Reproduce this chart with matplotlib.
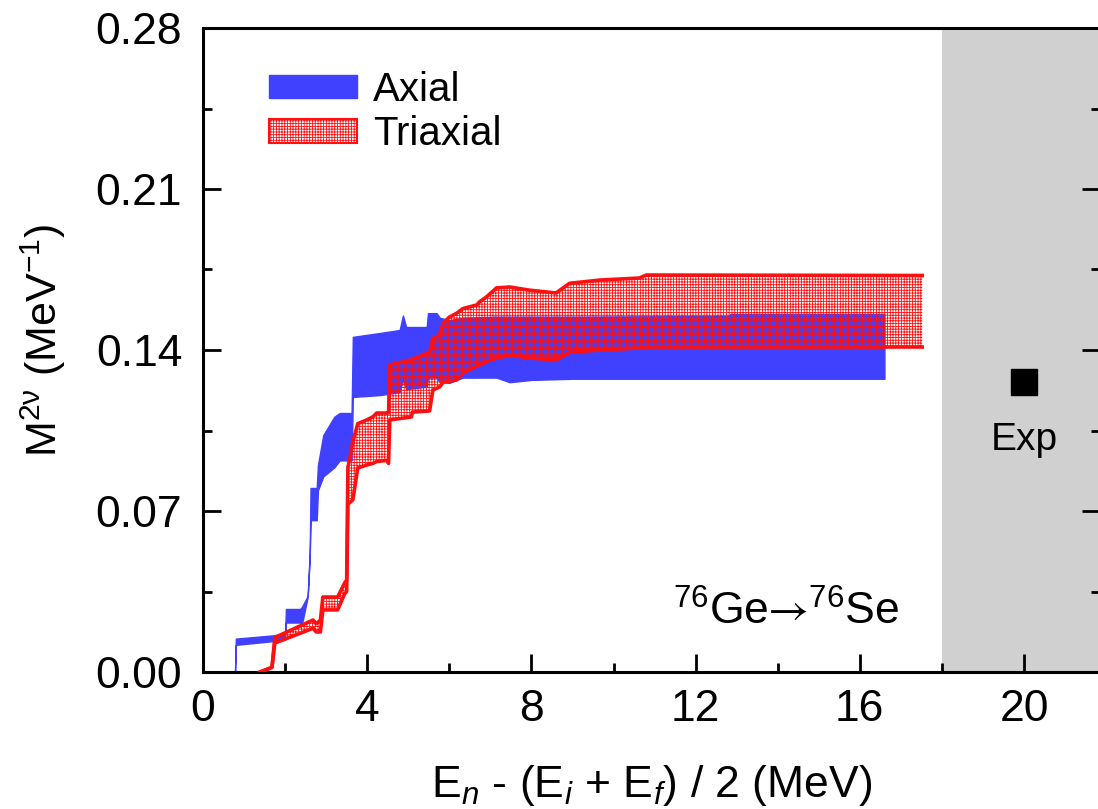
import matplotlib
matplotlib.use("Agg")
import matplotlib.pyplot as plt
from matplotlib.patches import Patch
from matplotlib.ticker import MultipleLocator, FormatStrFormatter

plt.rcParams['font.family'] = ['Liberation Sans', 'DejaVu Sans']
plt.rcParams['mathtext.fontset'] = 'custom'
plt.rcParams['mathtext.rm'] = 'Liberation Sans'
plt.rcParams['mathtext.it'] = 'Liberation Sans:italic'
plt.rcParams['mathtext.bf'] = 'Liberation Sans:bold'
plt.rcParams['mathtext.cal'] = 'STIXGeneral'
plt.rcParams['hatch.linewidth'] = 0.6

# Running sum of the 2vbb matrix element vs. intermediate-state energy
# Axial calculation: energy, lower and upper edge of the band
axial_e = [0.45, 0.78, 0.80, 1.75, 2.00, 2.02, 2.36, 2.40, 2.55, 2.60, 2.62,
           2.77, 2.80, 2.93, 3.20, 3.33, 3.62, 3.65, 4.31, 4.79, 4.87, 4.95,
           5.45, 5.48, 5.69, 5.77, 6.00, 6.33, 7.15, 7.47, 8.00, 9.00, 12.80,
           12.85, 16.60]
axial_lo = [0.0000, 0.0000, 0.0118, 0.0135, 0.0140, 0.0215, 0.0215, 0.0200,
            0.0326, 0.0500, 0.0660, 0.0660, 0.0790, 0.0850, 0.0890, 0.0920,
            0.0920, 0.1196, 0.1204, 0.1217, 0.1270, 0.1230, 0.1240, 0.1280,
            0.1280, 0.1260, 0.1257, 0.1280, 0.1280, 0.1260, 0.1270, 0.1275,
            0.1275, 0.1275, 0.1275]
axial_hi = [0.0000, 0.0000, 0.0145, 0.0160, 0.0170, 0.0274, 0.0274, 0.0280,
            0.0330, 0.0520, 0.0800, 0.0800, 0.0900, 0.1030, 0.1110, 0.1126,
            0.1126, 0.1457, 0.1474, 0.1487, 0.1550, 0.1500, 0.1500, 0.1560,
            0.1560, 0.1540, 0.1530, 0.1540, 0.1545, 0.1545, 0.1545, 0.1545,
            0.1548, 0.1557, 0.1557]

# Triaxial calculation: energy, lower and upper edge of the band
triax_e = [1.39, 1.68, 1.75, 2.68, 2.76, 2.86, 2.92, 3.28, 3.45, 3.50, 3.53,
           3.65, 3.77, 3.99, 4.14, 4.23, 4.47, 4.52, 4.55, 5.08, 5.10, 5.52,
           5.60, 5.77, 5.85, 6.00, 6.18, 6.33, 6.67, 6.74, 6.90, 7.15, 7.47,
           7.96, 8.60, 8.93, 9.66, 10.63, 10.80, 17.52]
triax_lo = [0.0000, 0.0020, 0.0126, 0.0190, 0.0174, 0.0174, 0.0270, 0.0270,
            0.0340, 0.0350, 0.0730, 0.0748, 0.0887, 0.0900, 0.0907, 0.0915,
            0.0920, 0.0907, 0.1096, 0.1109, 0.1130, 0.1135, 0.1226, 0.1240,
            0.1260, 0.1265, 0.1270, 0.1300, 0.1330, 0.1335, 0.1350, 0.1365,
            0.1378, 0.1365, 0.1357, 0.1390, 0.1400, 0.1409, 0.1413, 0.1413]
triax_hi = [0.0000, 0.0020, 0.0150, 0.0226, 0.0210, 0.0226, 0.0326, 0.0326,
            0.0387, 0.0400, 0.0890, 0.1000, 0.1080, 0.1096, 0.1110, 0.1126,
            0.1126, 0.1126, 0.1335, 0.1357, 0.1360, 0.1390, 0.1450, 0.1465,
            0.1517, 0.1543, 0.1560, 0.1580, 0.1596, 0.1610, 0.1630, 0.1670,
            0.1674, 0.1660, 0.1648, 0.1690, 0.1704, 0.1713, 0.1726, 0.1724]

# Measured value
exp_e = [20.0]
exp_m = [0.126]

x_ticks = [0, 4, 8, 12, 16, 20]
y_ticks = [0.00, 0.07, 0.14, 0.21, 0.28]

blue = '#4040ff'
red = '#ff1010'

W, H = 1098, 809
fig = plt.figure(figsize=(W / 100, H / 100), dpi=100)
ax = fig.add_axes([203 / W, 1 - 672 / H, (1100 - 203) / W, (672 - 28) / H])

ax.axvspan(18, 22, color='#d0d0d0', lw=0, zorder=0)

ax.fill_between(axial_e, axial_lo, axial_hi, facecolor=blue, edgecolor=blue,
                lw=1.0, zorder=2)
ax.fill_between(triax_e, triax_lo, triax_hi, facecolor='none', edgecolor=red,
                hatch='++++++', lw=0, zorder=3)
ax.plot(triax_e, triax_lo, color=red, lw=2.6, zorder=4)
ax.plot(triax_e, triax_hi, color=red, lw=2.6, zorder=4)

ax.plot(exp_e, exp_m, 's', color='black', ms=19, zorder=5)
ax.text(20, 0.101, 'Exp', ha='center', va='center', fontsize=28)

ax.text(16.95, 0.0205,
        r'$^{76}$Ge$\hspace{-0.22}\mathcal{\rightarrow}\hspace{-0.22}$$^{76}$Se',
        ha='right', va='baseline', fontsize=32)

ax.set_xlim(0, (1100 - 203) / 41.05)
ax.set_ylim(0, 0.28)
ax.set_xticks(x_ticks)
ax.set_yticks(y_ticks)
ax.xaxis.set_minor_locator(MultipleLocator(2))
ax.yaxis.set_minor_locator(MultipleLocator(0.035))
ax.yaxis.set_major_formatter(FormatStrFormatter('%.2f'))

for s in ax.spines.values():
    s.set_linewidth(2.2)
ax.tick_params(which='both', direction='in', width=2.0, labelsize=32,
               top=False, right=True)
ax.tick_params(which='major', length=13)
ax.tick_params(which='minor', length=6.5)
ax.tick_params(axis='x', which='major', pad=12)
ax.tick_params(axis='y', which='major', pad=15)

ax.set_xlabel(r'E$_{\mathit{n}}$ - (E$_{\mathit{i}}$ + E$_{\mathit{f}}$) / 2 (MeV)',
              fontsize=32, labelpad=24)
ax.set_ylabel(r'M$^{\mathregular{2ν}}$ (MeV$^{\mathregular{-1}}$)', fontsize=31)
ax.yaxis.set_label_coords(-0.151, 0.515)

handles = [Patch(facecolor=blue, edgecolor=blue, lw=1.0),
           Patch(facecolor='white', edgecolor=red, hatch='++++++', lw=1.5)]
ax.legend(handles, ['Axial', 'Triaxial'], loc='upper left',
          bbox_to_anchor=(0.033, 0.99), frameon=False, fontsize=29,
          handlelength=2.18, handleheight=0.52, handletextpad=0.4,
          labelspacing=0.16)

fig.savefig('out.png', dpi=100)
